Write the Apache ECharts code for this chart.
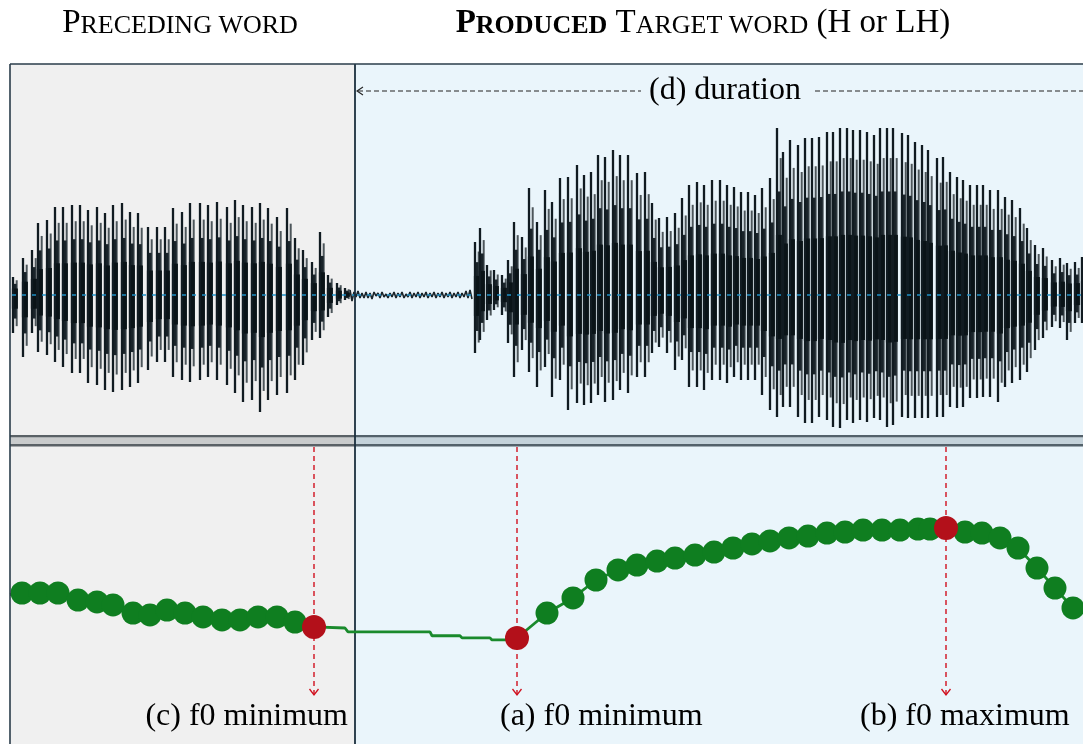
<!DOCTYPE html>
<html><head><meta charset="utf-8">
<script src="https://cdn.jsdelivr.net/npm/echarts@6/dist/echarts.min.js"></script>
<style>html,body{margin:0;padding:0;background:#fff}#c{width:1083px;height:744px}</style>
</head><body><div id="c"></div>
<script>
// ---------------- DATA ----------------
// time axis in ms-like units (0 .. 1073), amplitude in arbitrary units, f0 in Hz
const regionNames  = ['Preceding word', 'Produced target word'];
const regionStarts = [0, 345];
const regionEnds   = [345, 1073];

// waveform strokes: [time, positive peak, negative peak]
const wavePreceding = [
 [3,18,-38],[13,37,-62],[22,45,-38],[28,72,-57],[37,75,-60],[45,88,-67],[53,88,-72],[62,90,-78],
 [70,90,-78],[78,85,-88],[87,88,-90],[95,82,-95],[103,90,-97],[112,92,-95],[120,83,-92],[128,82,-88],
 [138,68,-75],[147,68,-67],[155,68,-67],[163,87,-82],[172,83,-85],[180,92,-87],[190,92,-85],[198,90,-82],
 [207,93,-85],[217,88,-90],[225,95,-98],[233,90,-107],[242,88,-105],[250,92,-117],[258,87,-105],[267,78,-100],
 [277,87,-98],[285,57,-85],[293,45,-70],[302,33,-45],[310,63,-43],[318,20,-22],[327,12,-10],[335,7,-5]
];
const waveSilence = [
 [340,5,-6],[344,3,-2],[348,4,-3],[352,2,-3],[356,3,-3],[360,2,-4],[364,3,-1],[368,2,-3],[372,3,-2],[376,1,-3],
 [380,2,-2],[384,3,-3],[388,2,-2],[392,3,-3],[396,1,-2],[400,3,-3],[404,2,-2],[408,3,-3],[412,2,-2],[416,3,-3],
 [420,2,-2],[424,3,-3],[428,2,-2],[432,3,-3],[436,2,-2],[440,3,-3],[444,2,-2],[448,3,-3],[452,2,-2],[456,4,-3],[460,5,-4]
];
const waveTarget = [
 [465,53,-58],[470,67,-45],[477,30,-25],[484,25,-15],[492,20,-20],[498,35,-48],[504,73,-82],[512,58,-55],
 [519,107,-77],[527,73,-92],[535,105,-72],[542,93,-102],[550,117,-85],[558,118,-115],[567,130,-108],[574,120,-110],
 [581,123,-108],[588,140,-100],[595,138,-107],[603,145,-105],[610,140,-95],[618,140,-98],[627,122,-82],[635,123,-82],
 [642,92,-58],[649,77,-52],[657,78,-58],[665,82,-75],[672,97,-65],[679,110,-92],[687,113,-92],[694,110,-95],
 [702,115,-85],[710,115,-85],[717,110,-88],[724,108,-82],[731,103,-85],[738,103,-85],[745,100,-85],[752,107,-100],
 [760,117,-115],[767,167,-122],[773,143,-112],[780,155,-112],[788,150,-122],[795,157,-128],[802,157,-128],[809,158,-122],
 [817,163,-125],[823,163,-132],[830,167,-133],[837,167,-125],[843,165,-128],[850,165,-125],[857,163,-127],[864,160,-123],
 [870,167,-125],[877,167,-132],[883,167,-130],[892,162,-122],[898,160,-123],[905,153,-123],[912,150,-123],[918,145,-123],
 [927,137,-122],[933,138,-122],[940,123,-112],[947,118,-113],[953,115,-112],[960,110,-103],[967,110,-103],[973,110,-102],
 [980,105,-102],[988,105,-107],[995,98,-92],[1002,95,-88],[1010,87,-85],[1017,67,-77],[1025,50,-55],[1033,47,-43],
 [1042,35,-32],[1050,37,-33],[1057,32,-45],[1065,33,-28],[1072,38,-28]
];

// f0 track (voiced frames, Hz)
const f0Times  = [12,30,48,68,87,103,123,140,157,175,193,212,230,248,267,285,
                  537,563,586,608,627,647,665,685,704,723,742,760,779,798,817,835,853,872,890,908,920,
                  955,972,990,1008,1027,1045,1063];
const f0Values = [201,201,201,196.3,195,193,187.6,186.3,189.6,187.6,185,183,183,185,185,181.6,
                  187.6,197.7,209.7,216.4,219.7,222.4,224.4,226.4,228.4,231.1,233.8,235.8,237.8,239.1,241.1,241.8,243.1,243.1,243.1,243.8,243.8,
                  241.8,241.1,237.8,231.1,217.7,204.3,191.0];
// contour across the unvoiced stretch and at the left edge, as drawn
const gapTimes  = [0,  335,338,420,422,450,452,480,482,500];
const gapValues = [200,177.6,175,175,172.4,172.4,171,171,169.6,169.6];

// measurement points
const eventNames = ['(c) f0 minimum', '(a) f0 minimum', '(b) f0 maximum'];
const eventTimes = [304, 507, 936];
const eventF0    = [178.3, 170.9, 244.5];

const durationLabel = '(d) duration';

// ---------------- LAYOUT / STYLE ----------------
const FONT = '"Liberation Serif","Times New Roman",Times,serif';
const regionFill = ['#f0f0f0', '#eaf5fb'];
const sepFill = ['#c9cbcc', '#c4d2da'];
const sepLine = ['#5a6166', '#53616a'];
const labelAlign = ['right', 'left', 'left'];
const labelDx = [34, -17, -86];
const GREEN = '#0f7e20', RED = '#b3101a';

const chart = echarts.init(document.getElementById('c'), null, {renderer: 'canvas'});

const waveData = wavePreceding.concat(waveTarget);
const silenceLine = [];
waveSilence.forEach(d => { silenceLine.push([d[0], d[1]]); silenceLine.push([d[0] + 2, d[2]]); });
const regionData = regionStarts.map((s, i) => [s, regionEnds[i], i]);
const dots = f0Times.map((t, i) => [t, f0Values[i]]);
const contour = dots.concat(gapTimes.map((t, i) => [t, gapValues[i]]),
  eventTimes.map((t, i) => [t, eventF0[i]])).sort((a, b) => a[0] - b[0]);
const events = eventTimes.map((t, i) => [t, eventF0[i], i]);

function renderRegionBg(params, api) {
  const cs = params.coordSys;
  const x0 = api.coord([api.value(0), 0])[0], x1 = api.coord([api.value(1), 0])[0];
  return {type: 'rect', shape: {x: x0, y: cs.y, width: x1 - x0, height: cs.height},
    style: {fill: regionFill[api.value(2)]}};
}
function renderSeparator(params, api) {
  const cs = params.coordSys, i = api.value(2);
  const x0 = api.coord([api.value(0), 0])[0], x1 = api.coord([api.value(1), 0])[0];
  const y = cs.y + cs.height;
  return {type: 'group', children: [
    {type: 'rect', shape: {x: x0, y: y, width: x1 - x0, height: 11}, style: {fill: sepFill[i]}},
    {type: 'rect', shape: {x: x0, y: y, width: x1 - x0, height: 2.2}, style: {fill: sepLine[i]}},
    {type: 'rect', shape: {x: x0, y: y + 9, width: x1 - x0, height: 2.4}, style: {fill: sepLine[i]}}
  ]};
}
function renderZero(params, api) {
  const a = api.coord([api.value(0), 0]), b = api.coord([api.value(1), 0]);
  return {type: 'line', shape: {x1: a[0] + 2, y1: a[1], x2: b[0], y2: b[1]},
    style: {stroke: '#1f8fc4', lineWidth: 1.4, lineDash: [4, 6]}};
}
function renderBoundary(params, api) {
  if (api.value(0) <= 0) return null;
  const x = api.coord([api.value(0), 0])[0];
  return {type: 'line', shape: {x1: x, y1: 64, x2: x, y2: 744},
    style: {stroke: '#1b2f3e', lineWidth: 1.8}};
}
function seg(t, hi, lo, k, api, stroke, w) {
  const p1 = api.coord([t, hi * k]), p0 = api.coord([t, lo * k]);
  return {type: 'line', shape: {x1: p0[0], y1: p0[1], x2: p1[0], y2: p1[1]}, style: {stroke: stroke, lineWidth: w}};
}
function renderWave(params, api) {
  const t = api.value(0), hi = api.value(1), lo = api.value(2);
  return {type: 'group', children: [
    seg(t + 3.7, hi, lo, 0.82, api, '#4d565b', 2),
    seg(t + 1.9, hi, lo, 0.62, api, '#1a242a', 3.5),
    seg(t + 1.9, hi, lo, 0.36, api, '#0a1317', 6),
    seg(t, hi, lo, 1, api, '#111b21', 2.3)
  ]};
}
function renderArrow(params, api) {
  const cs = params.coordSys;
  const x = api.coord([api.value(0), api.value(1)])[0];
  const y0 = cs.y + 2, y1 = cs.y + cs.height - 49;
  return {type: 'group', children: [
    {type: 'line', shape: {x1: x, y1: y0, x2: x, y2: y1}, style: {stroke: '#d0101e', lineWidth: 1.4, lineDash: [5, 4]}},
    {type: 'polyline', shape: {points: [[x - 4.5, y1 - 6], [x, y1], [x + 4.5, y1 - 6]]}, style: {stroke: '#d0101e', lineWidth: 1.3, fill: null}}
  ]};
}
function renderLabel(params, api) {
  const cs = params.coordSys, i = api.value(2);
  const x = api.coord([api.value(0), api.value(1)])[0];
  return {type: 'text', x: x + labelDx[i], y: cs.y + cs.height - 27,
    style: {text: eventNames[i], font: '32px ' + FONT, fill: '#000', align: labelAlign[i], verticalAlign: 'middle'}};
}
function renderDuration(params, api) {
  const cs = params.coordSys;
  const xs = api.coord([api.value(0), 0])[0] + 2, xe = api.coord([api.value(1), 0])[0];
  const y = cs.y + 27;
  const mid = (xs + xe) / 2 + 5, half = 76;
  const dash = {stroke: '#222', lineWidth: 1.2, lineDash: [5, 3]};
  return {type: 'group', children: [
    {type: 'line', shape: {x1: xs + 1, y1: y, x2: mid - half - 8, y2: y}, style: dash},
    {type: 'line', shape: {x1: mid + half + 14, y1: y, x2: xe, y2: y}, style: dash},
    {type: 'polyline', shape: {points: [[xs + 6, y - 4], [xs, y], [xs + 6, y + 4]]}, style: {stroke: '#222', lineWidth: 1.1, fill: null}},
    {type: 'text', x: mid, y: y - 0.5, style: {text: durationLabel, font: '32px ' + FONT, fill: '#000', align: 'center', verticalAlign: 'middle'}}
  ]};
}

const titleRich = {
  pn: {fontFamily: FONT, fontSize: 33, lineHeight: 33, verticalAlign: 'bottom', fill: '#000'},
  sn: {fontFamily: FONT, fontSize: 26, lineHeight: 28.4, verticalAlign: 'bottom', fill: '#000'},
  pb: {fontFamily: FONT, fontSize: 33, lineHeight: 33, fontWeight: 'bold', verticalAlign: 'bottom', fill: '#000'},
  sb: {fontFamily: FONT, fontSize: 26, lineHeight: 28.4, fontWeight: 'bold', verticalAlign: 'bottom', fill: '#000'}
};

chart.setOption({
  animation: false,
  backgroundColor: '#ffffff',
  grid: [
    {left: 10, top: 64, right: 0, height: 371},
    {left: 10, top: 445, right: 0, bottom: 0}
  ],
  xAxis: [
    {type: 'value', gridIndex: 0, min: 0, max: 1073, show: false},
    {type: 'value', gridIndex: 1, min: 0, max: 1073, show: false}
  ],
  yAxis: [
    {type: 'value', gridIndex: 0, min: -140, max: 231, show: false},
    {type: 'value', gridIndex: 1, min: 100, max: 300, show: false}
  ],
  graphic: [
    {type: 'text', x: 180, y: 23, z: 100, style: {text: '{pn|P}{sn|RECEDING WORD}', rich: titleRich, align: 'center', verticalAlign: 'middle'}},
    {type: 'text', x: 703, y: 23, z: 100, style: {text: '{pb|P}{sb|RODUCED}{pn| T}{sn|ARGET WORD}{pn| (H or LH)}', rich: titleRich, align: 'center', verticalAlign: 'middle'}},
    {type: 'line', z: 100, shape: {x1: 10, y1: 64, x2: 1083, y2: 64}, style: {stroke: '#2a3c4a', lineWidth: 1.6}},
    {type: 'line', z: 100, shape: {x1: 10, y1: 64, x2: 10, y2: 744}, style: {stroke: '#2a3c4a', lineWidth: 1.6}}
  ],
  series: [
    {type: 'custom', name: 'bg0', xAxisIndex: 0, yAxisIndex: 0, z: 0, clip: false, data: regionData, renderItem: renderRegionBg, silent: true},
    {type: 'custom', name: 'bg1', xAxisIndex: 1, yAxisIndex: 1, z: 0, clip: false, data: regionData, renderItem: renderRegionBg, silent: true},
    {type: 'custom', name: 'waveform', xAxisIndex: 0, yAxisIndex: 0, z: 2, clip: false, data: waveData, renderItem: renderWave, silent: true},
    {type: 'line', name: 'silence', xAxisIndex: 0, yAxisIndex: 0, z: 2, data: silenceLine, symbol: 'none',
      lineStyle: {color: '#1b252b', width: 1.6}, silent: true},
    {type: 'custom', name: 'zero', xAxisIndex: 0, yAxisIndex: 0, z: 3, clip: false, data: regionData, renderItem: renderZero, silent: true},
    {type: 'custom', name: 'separator', xAxisIndex: 0, yAxisIndex: 0, z: 4, clip: false, data: regionData, renderItem: renderSeparator, silent: true},
    {type: 'custom', name: 'boundary', xAxisIndex: 1, yAxisIndex: 1, z: 5, clip: false, data: regionData, renderItem: renderBoundary, silent: true},
    {type: 'custom', name: 'duration', xAxisIndex: 0, yAxisIndex: 0, z: 6, clip: false, data: [[regionStarts[1], regionEnds[1]]], renderItem: renderDuration, silent: true},
    {type: 'line', name: 'f0 contour', xAxisIndex: 1, yAxisIndex: 1, z: 6, data: contour, showSymbol: false, symbol: 'none',
      lineStyle: {color: '#1a8a2c', width: 2.8}, silent: true},
    {type: 'scatter', name: 'f0', xAxisIndex: 1, yAxisIndex: 1, z: 7, data: dots, symbol: 'circle', symbolSize: 23,
      itemStyle: {color: GREEN, opacity: 1}, silent: true},
    {type: 'custom', name: 'arrows', xAxisIndex: 1, yAxisIndex: 1, z: 8, clip: false, data: events, renderItem: renderArrow, silent: true},
    {type: 'scatter', name: 'events', xAxisIndex: 1, yAxisIndex: 1, z: 9, data: events, symbol: 'circle', symbolSize: 24,
      itemStyle: {color: RED, opacity: 1}, silent: true},
    {type: 'custom', name: 'labels', xAxisIndex: 1, yAxisIndex: 1, z: 10, clip: false, data: events, renderItem: renderLabel, silent: true}
  ]
});
</script></body></html>
